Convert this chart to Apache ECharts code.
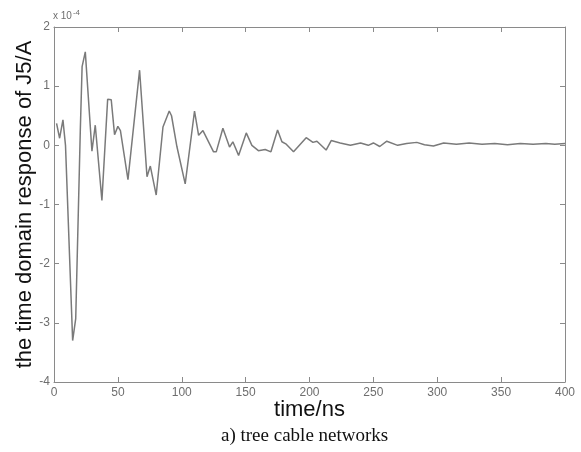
<!DOCTYPE html>
<html>
<head>
<meta charset="utf-8">
<script src="https://cdn.jsdelivr.net/npm/echarts@6/dist/echarts.min.js"></script>
<style>
  html, body { margin: 0; padding: 0; background: #fff; }
  #chart { width: 581px; height: 452px; }
</style>
</head>
<body>
<div id="chart"></div>
<script>
// time in ns, response in units of 1e-4 A
var time = [2, 4.4, 7, 9, 14.6, 17, 20.6, 22, 24.5, 29.7, 32.3, 37.5, 42, 44.8, 47.4, 50, 52,
    57.9, 67, 72.8, 75.4, 80, 85.3, 90.2, 92, 96.2, 102.7, 110, 113.2, 116.6, 124.9, 127,
    132.2, 137.4, 140, 144.5, 150.5, 154.9, 160, 165.3, 169.8, 175, 178.4, 181.8, 187.5,
    197.4, 202.7, 205.8, 213, 217, 224, 232, 240, 246, 250, 255, 260.5, 269, 276, 284, 290,
    297, 305, 315, 325, 335, 345, 355, 365, 375, 385, 392, 400];
var response = [0.37, 0.12, 0.43, 0.0, -3.3, -2.93, 0.26, 1.33, 1.58, -0.1, 0.34, -0.93, 0.78, 0.77, 0.18, 0.32, 0.25,
    -0.58, 1.27, -0.53, -0.35, -0.84, 0.31, 0.58, 0.5, -0.02, -0.65, 0.58, 0.17, 0.25, -0.11, -0.11,
    0.29, -0.03, 0.06, -0.17, 0.21, 0.0, -0.09, -0.07, -0.11, 0.26, 0.06, 0.02, -0.11,
    0.13, 0.05, 0.07, -0.08, 0.08, 0.04, 0.0, 0.04, 0.0, 0.04, -0.02, 0.07, 0.0, 0.03, 0.05, 0.01,
    -0.01, 0.04, 0.02, 0.04, 0.02, 0.03, 0.01, 0.03, 0.02, 0.03, 0.02, 0.03];
var xTicks = [0, 50, 100, 150, 200, 250, 300, 350, 400];
var yTicks = [-4, -3, -2, -1, 0, 1, 2];

var points = [];
for (var i = 0; i < time.length; i++) {
    points.push([time[i], response[i]]);
}

var axisGray = '#8a8a8a';
var labelGray = '#6e6e6e';

function boxAxis(pos, min, max, interval, showLabel) {
    return {
        type: 'value',
        position: pos,
        min: min,
        max: max,
        interval: interval,
        axisLine: { show: true, onZero: false, lineStyle: { color: axisGray, width: 1 } },
        axisTick: { show: true, inside: true, length: 5, lineStyle: { color: axisGray } },
        axisLabel: {
            show: showLabel,
            color: labelGray,
            fontFamily: 'Liberation Sans, Arial, sans-serif',
            fontSize: 12,
            margin: 5
        },
        splitLine: { show: false }
    };
}

var chart = echarts.init(document.getElementById('chart'));

var xBottom = boxAxis('bottom', xTicks[0], xTicks[xTicks.length - 1], 50, true);
xBottom.name = 'time/ns';
xBottom.nameLocation = 'middle';
xBottom.nameGap = 17;
xBottom.nameMoveOverlap = false;
xBottom.nameTextStyle = { color: '#111', fontSize: 22, fontFamily: 'Liberation Sans, Arial, sans-serif' };

var yLeft = boxAxis('left', yTicks[0], yTicks[yTicks.length - 1], 1, true);
yLeft.name = 'the time domain response of J5/A';
yLeft.nameLocation = 'middle';
yLeft.nameGap = 18;
yLeft.nameMoveOverlap = false;
yLeft.nameTextStyle = { color: '#111', fontSize: 22, fontFamily: 'Liberation Sans, Arial, sans-serif' };
yLeft.axisLabel.margin = 4;

chart.setOption({
    backgroundColor: '#fff',
    animation: false,
    grid: { left: 54, right: 16, top: 27, bottom: 70 },
    xAxis: [xBottom, boxAxis('top', 0, 400, 50, false)],
    yAxis: [yLeft, boxAxis('right', -4, 2, 1, false)],
    graphic: [
        {
            type: 'text',
            left: 53,
            top: 9,
            style: {
                text: 'x 10{sup|-4}',
                fill: labelGray,
                font: '10px "Liberation Sans", Arial, sans-serif',
                rich: { sup: { fontSize: 8, verticalAlign: 'top', padding: [0, 0, 6, 1], fill: labelGray } }
            }
        },
        {
            type: 'text',
            left: 221,
            top: 427,
            style: {
                text: 'a) tree cable networks',
                fill: '#111',
                font: '19px "Liberation Serif", "Times New Roman", serif'
            }
        }
    ],
    series: [
        {
            type: 'line',
            data: points,
            symbol: 'none',
            lineStyle: { color: '#7a7a7a', width: 1.5 }
        }
    ]
});
</script>
</body>
</html>
